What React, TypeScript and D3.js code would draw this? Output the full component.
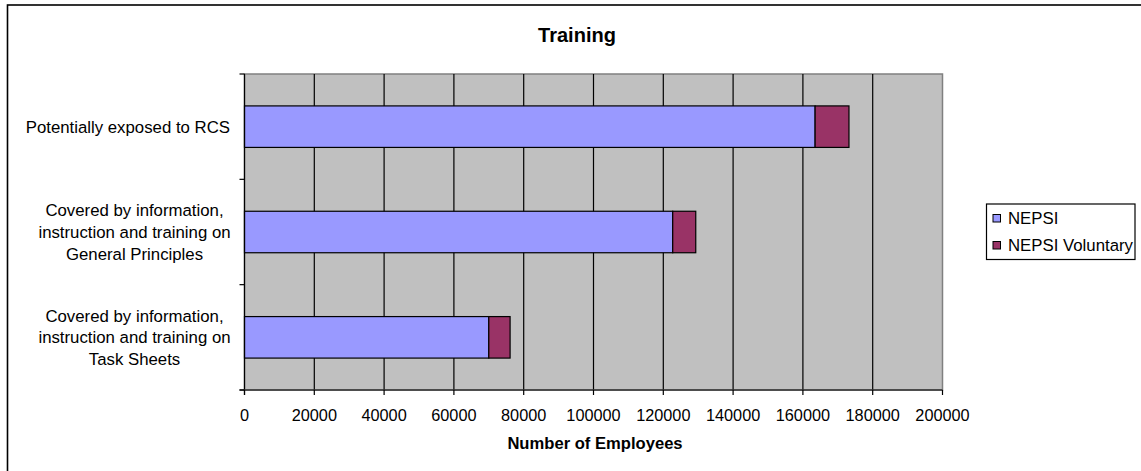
import React from "react";
import * as d3 from "d3";

const categories: string[][] = [
  ["Potentially exposed to RCS"],
  ["Covered by information,", "instruction and training on", "General Principles"],
  ["Covered by information,", "instruction and training on", "Task Sheets"],
];
const nepsi = [163500, 122700, 70000];
const nepsiVoluntary = [9700, 6600, 6100];
const seriesNames = ["NEPSI", "NEPSI Voluntary"];
const seriesColors = ["#9999FF", "#993366"];
const xTicks = [0, 20000, 40000, 60000, 80000, 100000, 120000, 140000, 160000, 180000, 200000];

const W = 1141;
const H = 471;
const plot = { left: 244.5, right: 942.5, top: 74, bottom: 390 };
const FONT = "Liberation Sans, Arial, sans-serif";

export default function App() {
  const x = d3.scaleLinear().domain([0, 200000]).range([plot.left, plot.right]);
  const y = d3
    .scaleBand<number>()
    .domain(d3.range(categories.length))
    .range([plot.top, plot.bottom])
    .paddingInner(0.606)
    .paddingOuter(0.303);
  const bandStep = (plot.bottom - plot.top) / categories.length;
  const stacked = categories.map((_, i) => [
    [0, nepsi[i]],
    [nepsi[i], nepsi[i] + nepsiVoluntary[i]],
  ]);

  return (
    <svg
      width={W}
      height={H}
      style={{ position: "absolute", left: 0, top: 0, background: "#fff" }}
      fontFamily={FONT}
    >
      <rect x={7.5} y={5} width={1400} height={800} fill="none" stroke="#000" strokeWidth={1.6} />
      <text x={577} y={41.5} textAnchor="middle" fontWeight="bold" fontSize={20}>
        Training
      </text>
      {/* plot area */}
      <rect
        x={plot.left}
        y={plot.top}
        width={plot.right - plot.left}
        height={plot.bottom - plot.top}
        fill="#C0C0C0"
        stroke="#808080"
        strokeWidth={1.5}
      />
      {xTicks.slice(1, -1).map((t) => (
        <line key={t} x1={x(t)} x2={x(t)} y1={plot.top} y2={plot.bottom} stroke="#000" strokeWidth={1.2} />
      ))}
      {/* bars */}
      {stacked.map((segs, i) =>
        segs.map(([a, b], s) => (
          <rect
            key={`${i}-${s}`}
            x={x(a)}
            y={y(i)!}
            width={x(b) - x(a)}
            height={y.bandwidth()}
            fill={seriesColors[s]}
            stroke="#000"
            strokeWidth={1.2}
          />
        ))
      )}
      {/* axes */}
      <line x1={plot.left} x2={plot.left} y1={plot.top} y2={plot.bottom + 5} stroke="#000" strokeWidth={1.2} />
      <line x1={plot.left - 5} x2={plot.right} y1={plot.bottom} y2={plot.bottom} stroke="#333" strokeWidth={1.5} />
      {d3.range(categories.length + 1).map((k) => (
        <line
          key={k}
          x1={plot.left - 5}
          x2={plot.left}
          y1={plot.top + k * bandStep}
          y2={plot.top + k * bandStep}
          stroke="#000"
          strokeWidth={1.2}
        />
      ))}
      {xTicks.map((t) => (
        <g key={t}>
          <line x1={x(t)} x2={x(t)} y1={plot.bottom} y2={plot.bottom + 5} stroke="#000" strokeWidth={1.2} />
          <text x={x(t)} y={421} textAnchor="middle" fontSize={16.3}>
            {t}
          </text>
        </g>
      ))}
      <text x={595} y={449} textAnchor="middle" fontWeight="bold" fontSize={16.6}>
        Number of Employees
      </text>
      {/* category labels */}
      {categories.map((lines, i) => {
        const cy = y(i)! + y.bandwidth() / 2;
        const lh = 21.7;
        const single = lines.length === 1;
        return (
          <text
            key={i}
            fontSize={16.8}
            textAnchor={single ? "end" : "middle"}
            x={single ? 230 : 134.5}
          >
            {lines.map((ln, j) => (
              <tspan
                key={j}
                x={single ? 230 : 134.5}
                y={cy + (j - (lines.length - 1) / 2) * lh + 6}
              >
                {ln}
              </tspan>
            ))}
          </text>
        );
      })}
      {/* legend */}
      <rect x={986.5} y={204} width={148.5} height={55.5} fill="#fff" stroke="#000" strokeWidth={1.2} />
      {seriesNames.map((n, s) => (
        <g key={n}>
          <rect
            x={993}
            y={214.5 + s * 27}
            width={7.5}
            height={7.5}
            fill={seriesColors[s]}
            stroke="#000"
            strokeWidth={1}
          />
          <text x={1008} y={224 + s * 27} fontSize={16.8}>
            {n}
          </text>
        </g>
      ))}
    </svg>
  );
}
